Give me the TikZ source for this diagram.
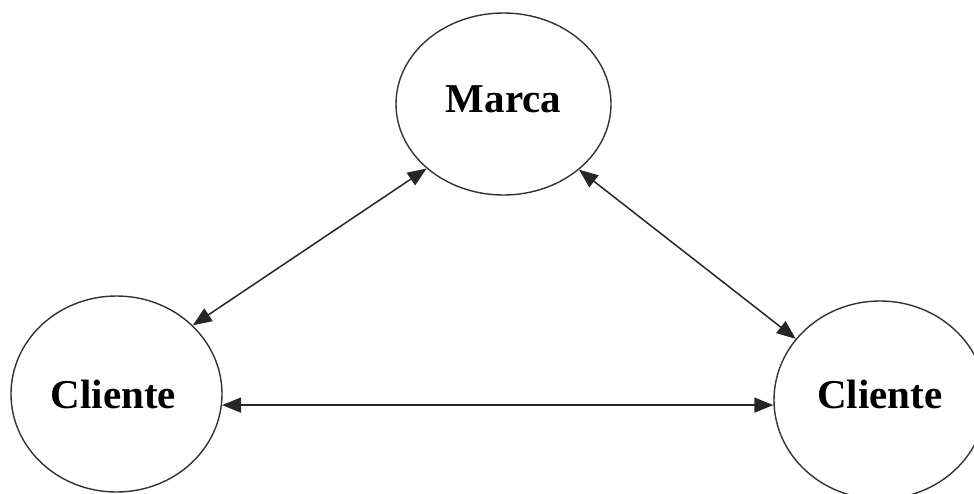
\documentclass[tikz,border=0pt]{standalone}
\usepackage{fontspec}
\setmainfont{Liberation Serif}
\usetikzlibrary{shapes.geometric,arrows.meta}
\newcommand{\bubtext}[2]{\smash{\raisebox{#1}{#2}}}
\tikzset{
  bubble/.style={ellipse, draw=black!80, line width=1.4pt, inner sep=0pt,
    font=\fontsize{41}{41}\selectfont\bfseries},
  link/.style={line width=1.5pt, draw=black!85, {Triangle[length=19pt,width=15pt]}-{Triangle[length=19pt,width=15pt]}}
}
\begin{document}
\begin{tikzpicture}[x=1pt,y=-1pt]
\useasboundingbox (0,0) rectangle (974,493);
\clip (0,0) rectangle (974,493);
\node[bubble, minimum width=215pt, minimum height=182pt] (marca) at (503.5,104) {\bubtext{-8pt}{Marca}};
\node[bubble, minimum width=211pt, minimum height=196pt] (cl) at (116.5,394) {\bubtext{-14pt}{Cliente\hspace*{6pt}}};
\node[bubble, minimum width=212pt, minimum height=198pt] (cr) at (880,400) {\bubtext{-8pt}{Cliente}};
\draw[link] (marca.220.8) -- (cl.42.9);
\draw[link] (marca.319.6) -- (cr.144.8);
\coordinate (hl) at (cl.-6);
\draw[link] (hl) -- (hl -| cr.west);
\end{tikzpicture}
\end{document}
